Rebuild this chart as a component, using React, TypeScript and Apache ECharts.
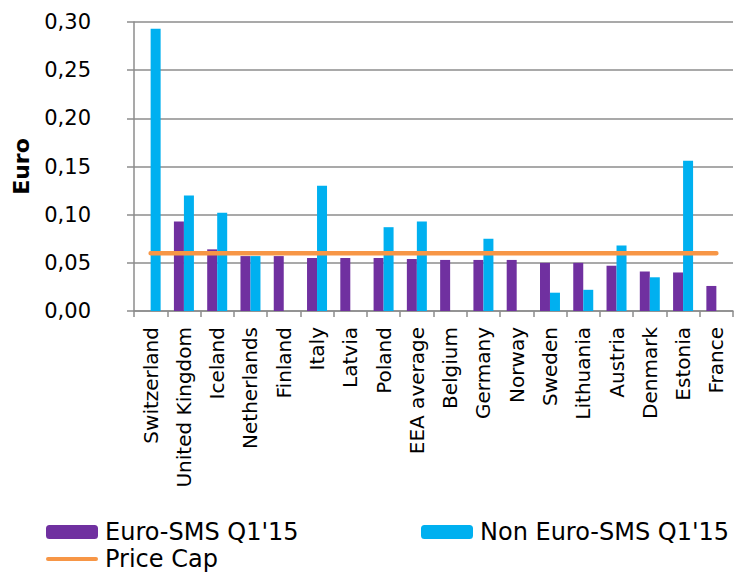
import React, { useEffect, useRef } from "react";
import * as echarts from "echarts";

const categories = [
  "Switzerland", "United Kingdom", "Iceland", "Netherlands", "Finland", "Italy",
  "Latvia", "Poland", "EEA average", "Belgium", "Germany", "Norway", "Sweden",
  "Lithuania", "Austria", "Denmark", "Estonia", "France",
];
const euroSms: (number | null)[] = [
  null, 0.093, 0.064, 0.057, 0.057, 0.055, 0.055, 0.055, 0.054, 0.053, 0.053,
  0.053, 0.050, 0.050, 0.047, 0.041, 0.040, 0.026,
];
const nonEuroSms: (number | null)[] = [
  0.293, 0.120, 0.102, 0.057, null, 0.130, null, 0.087, 0.093, null, 0.075,
  null, 0.019, 0.022, 0.068, 0.035, 0.156, null,
];
const priceCapValue = 0.06;
const priceCap = categories.map(() => priceCapValue);

const FONT = "DejaVu Sans";

export default function App() {
  const ref = useRef<HTMLDivElement>(null);
  useEffect(() => {
    if (!ref.current) return;
    const chart = echarts.init(ref.current, null, { renderer: "svg" });
    const legendText = { fontFamily: FONT, fontSize: 24, color: "#000", padding: [0, 0, 0, 2] };
    chart.setOption({
      animation: false,
      backgroundColor: "#ffffff",
      textStyle: { fontFamily: FONT, color: "#000" },
      grid: { left: 134, right: 6, top: 22, bottom: 262, containLabel: false },
      legend: [
        {
          data: ["Euro-SMS Q1'15"],
          left: 41, top: 515,
          itemWidth: 52, itemHeight: 14, itemGap: 0,
          textStyle: legendText,
        },
        {
          data: ["Non Euro-SMS Q1'15"],
          left: 416, top: 515,
          itemWidth: 52, itemHeight: 14, itemGap: 0,
          textStyle: legendText,
        },
        {
          data: [{ name: "Price Cap", icon: "path://M2,0 L50,0 A2,2 0 0 1 50,4 L2,4 A2,2 0 0 1 2,0 Z" }],
          left: 41, top: 542,
          itemWidth: 52, itemHeight: 5, itemGap: 0,
          textStyle: legendText,
        },
      ],
      xAxis: {
        type: "category",
        data: categories,
        axisLine: { lineStyle: { color: "#8c8c8c", width: 1.5 } },
        axisTick: { show: true, length: 6, lineStyle: { color: "#8c8c8c", width: 1.5 } },
        axisLabel: {
          rotate: 90,
          interval: 0,
          margin: 16,
          fontFamily: FONT,
          fontSize: 20,
          color: "#000",
        },
      },
      yAxis: {
        type: "value",
        min: 0,
        max: 0.3,
        interval: 0.05,
        name: "Euro",
        nameLocation: "middle",
        nameRotate: 90,
        nameGap: 102,
        nameTextStyle: { fontFamily: FONT, fontSize: 22, fontWeight: "bold", color: "#000" },
        axisLine: { show: true, lineStyle: { color: "#8c8c8c", width: 1.5 } },
        axisTick: { show: true, length: 7, lineStyle: { color: "#8c8c8c", width: 1.5 } },
        splitLine: { show: true, lineStyle: { color: "#8c8c8c", width: 1.5 } },
        axisLabel: {
          margin: 43,
          fontFamily: FONT,
          fontSize: 21,
          color: "#000",
          formatter: (v: number) => v.toFixed(2).replace(".", ","),
        },
      },
      series: [
        {
          name: "Euro-SMS Q1'15",
          type: "bar",
          data: euroSms,
          barWidth: 10,
          barGap: "0%",
          itemStyle: { color: "#7030A0" },
        },
        {
          name: "Non Euro-SMS Q1'15",
          type: "bar",
          data: nonEuroSms,
          barWidth: 10,
          barGap: "0%",
          itemStyle: { color: "#00B0F0" },
        },
        {
          name: "Price Cap",
          type: "line",
          data: priceCap,
          symbol: "none",
          showSymbol: false,
          itemStyle: { color: "#F79646" },
          lineStyle: { color: "#F79646", width: 4.5, cap: "round" },
          z: 5,
        },
      ],
    });
    return () => chart.dispose();
  }, []);
  return (
    <div
      ref={ref}
      style={{ position: "fixed", left: 0, top: 0, width: 739, height: 573, background: "#fff" }}
    />
  );
}
